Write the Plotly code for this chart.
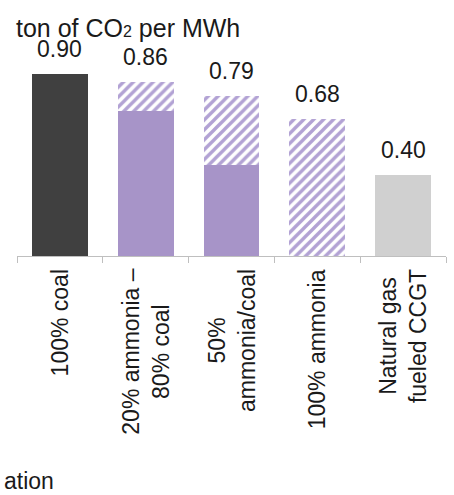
import plotly.graph_objects as go

categories = ["100% coal", "20% ammonia –<br>80% coal", "50%<br>ammonia/coal",
              "100% ammonia", "Natural gas<br>fueled CCGT"]
totals = [0.90, 0.86, 0.79, 0.68, 0.40]
solid_part = [0.90, 0.72, 0.45, 0.0, 0.40]
hatched_lower = [0.0, 0.14, 0.34, 0.43, 0.0]
hatched_upper = [0.0, 0.0, 0.0, 0.25, 0.0]
value_labels = ["0.90", "0.86", "0.79", "0.68", "0.40"]

solid_colors = ["#404040", "#A794C8", "#A794C8", "#A794C8", "#D0D0D0"]
purple = "#B2A2D4"
FONT = "Liberation Sans, Arial, sans-serif"
FS = 23

x = list(range(len(categories)))
bar_w = 0.65

fig = go.Figure()
fig.add_bar(x=x, y=solid_part, width=bar_w,
            marker=dict(color=solid_colors, line=dict(width=0)))
hatch = dict(shape="/", fgcolor=purple, bgcolor="white", size=7,
             solidity=0.48, fillmode="replace")
fig.add_bar(x=x, y=hatched_lower, width=bar_w,
            marker=dict(color="white", pattern=hatch, line=dict(width=0)))
fig.add_bar(x=x, y=hatched_upper, width=bar_w,
            marker=dict(color="white", pattern=hatch, line=dict(width=0)))

annotations = []
for xi, v, lab in zip(x, totals, value_labels):
    annotations.append(dict(x=xi, y=v, xref="x", yref="y", text=lab,
                            showarrow=False, yanchor="middle", yshift=25,
                            borderpad=0,
                            font=dict(size=FS, color="#1a1a1a", family=FONT)))
for xi, cat in zip(x, categories):
    annotations.append(dict(x=xi, y=0, xref="x", yref="paper",
                            text=cat, showarrow=False, textangle=-90,
                            align="center", yanchor="top", xanchor="center",
                            yshift=-11,
                            font=dict(size=FS, color="#1a1a1a", family=FONT)))
annotations.append(dict(x=-0.004, y=1.008, xref="paper", yref="paper",
                        text='ton of CO<span style="font-size:16px">2</span> per MWh',
                        showarrow=False, xanchor="left", yanchor="middle",
                        borderpad=0,
                        font=dict(size=25, color="#1a1a1a", family=FONT)))
annotations.append(dict(x=-0.035, y=-0.996, xref="paper", yref="paper",
                        text="ation", showarrow=False,
                        xanchor="left", yanchor="middle",
                        font=dict(size=FS, color="#1a1a1a", family=FONT)))

fig.update_layout(
    width=454, height=495,
    margin=dict(l=17, r=8, t=30, b=239),
    barmode="stack",
    showlegend=False,
    plot_bgcolor="white", paper_bgcolor="white",
    annotations=annotations,
    xaxis=dict(range=[-0.5, 4.5], tickvals=[-0.5, 0.5, 1.5, 2.5, 3.5, 4.5],
               showticklabels=False, ticks="outside", ticklen=6,
               tickcolor="#BFBFBF", showline=True, linecolor="#BFBFBF",
               linewidth=1, showgrid=False, zeroline=False),
    yaxis=dict(range=[0, 1.119], visible=False, showgrid=False),
)

fig.write_html("out.html")
